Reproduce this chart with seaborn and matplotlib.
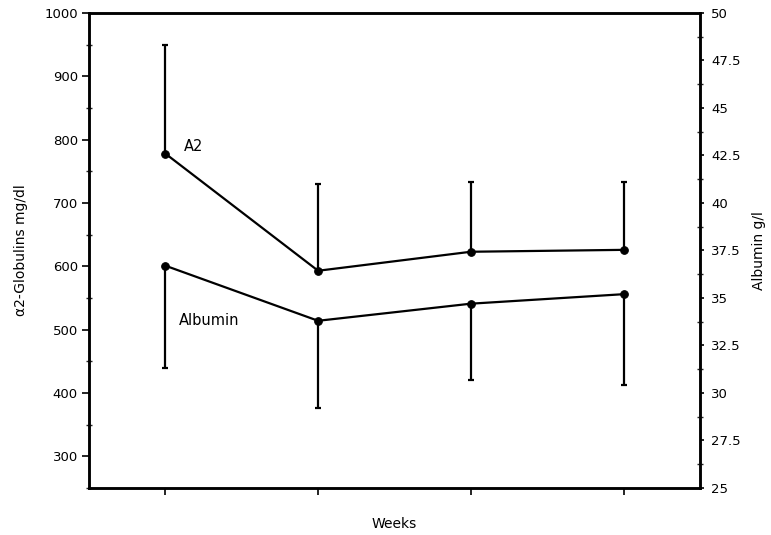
import matplotlib
matplotlib.use("Agg")
import matplotlib.pyplot as plt
from matplotlib.ticker import MultipleLocator, FuncFormatter
import seaborn as sns
import pandas as pd

# Serum alpha-2 globulins (mg/dl, left axis) and albumin (g/l, right axis) over weeks
weeks = [1, 2, 3, 4]
a2_mean = [778, 593, 623, 626]
a2_err_up = [172, 137, 110, 107]
alb_mean = [36.7, 33.8, 34.7, 35.2]
alb_err_down = [5.4, 4.6, 4.0, 4.8]

left_ticks = [300, 400, 500, 600, 700, 800, 900, 1000]
right_ticks = [25, 27.5, 30, 32.5, 35, 37.5, 40, 42.5, 45, 47.5, 50]

sns.set_theme(style="ticks")
plt.rcParams["font.family"] = ["DejaVu Sans"]
plt.rcParams["axes.linewidth"] = 1.8
plt.rcParams["text.color"] = "black"
plt.rcParams["axes.labelcolor"] = "black"

df = pd.DataFrame({"pos": range(len(weeks)), "a2": a2_mean, "alb": alb_mean})

fig = plt.figure(figsize=(7.71, 5.35), dpi=100)
ax = fig.add_axes([0.1154, 0.0879, 0.7925, 0.8878])
ax2 = ax.twinx()

line_kw = dict(color="black", linewidth=1.6, marker="o", markersize=5.5,
               markeredgecolor="black", markerfacecolor="black")

sns.lineplot(data=df, x="pos", y="a2", ax=ax, **line_kw)
ax.errorbar(df["pos"], df["a2"], yerr=[[0] * len(weeks), a2_err_up],
            fmt="none", ecolor="black", elinewidth=1.6, capsize=2.5, capthick=1.6)

sns.lineplot(data=df, x="pos", y="alb", ax=ax2, **line_kw)
ax2.errorbar(df["pos"], df["alb"], yerr=[alb_err_down, [0] * len(weeks)],
             fmt="none", ecolor="black", elinewidth=1.6, capsize=2.5, capthick=1.6)

ax.set_xlim(-0.5, len(weeks) - 0.5)
ax.set_ylim(250, 1000)
ax2.set_ylim(25, 50)

ax.set_xticks(range(len(weeks)))
ax.set_xticklabels([])
ax.set_yticks(left_ticks)
ax.yaxis.set_minor_locator(MultipleLocator(50))
ax2.set_yticks(right_ticks)
ax2.yaxis.set_minor_locator(MultipleLocator(1.25))
ax2.yaxis.set_major_formatter(FuncFormatter(lambda v, p: f"{v:g}"))

ax.tick_params(axis="both", which="major", direction="out", length=5, width=1.2,
               labelsize=9.5, colors="black", pad=3)
ax.tick_params(axis="y", which="minor", direction="inout", length=4, width=1)
ax2.tick_params(axis="y", which="major", direction="out", length=3, width=1.2,
                labelsize=9.5, colors="black", pad=5)
ax2.tick_params(axis="y", which="minor", direction="inout", length=4, width=1)

for a in (ax, ax2):
    for s in a.spines.values():
        s.set_visible(True)
        s.set_color("black")
        s.set_linewidth(1.8)

ax.set_xlabel("Weeks", fontsize=10, labelpad=13)
ax.set_ylabel("\u03b12-Globulins mg/dl", fontsize=10, labelpad=12)
ax2.set_ylabel("Albumin g/l", fontsize=10, labelpad=8)

ax.text(0.12, 789, "A2", fontsize=10.5, ha="left", va="center")
ax.text(0.09, 514, "Albumin", fontsize=10.5, ha="left", va="center")

ax.grid(False)
ax2.grid(False)

fig.savefig("out.png", dpi=100, facecolor="white")
